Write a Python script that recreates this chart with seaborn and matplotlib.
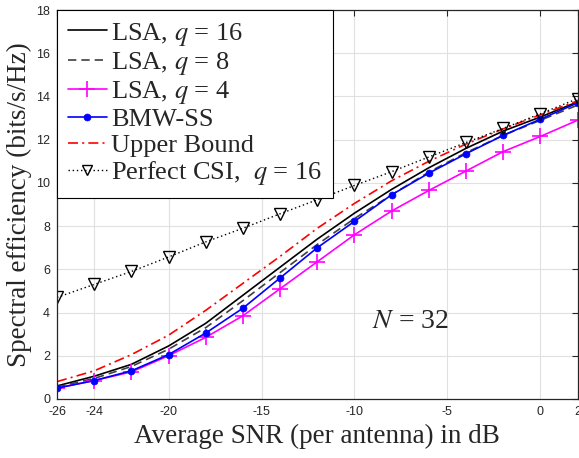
import numpy as np
import matplotlib
matplotlib.use("Agg")
import matplotlib.pyplot as plt
import seaborn as sns

# -----------------------------
# Data
# -----------------------------
snr_db = [-26, -24, -22, -20, -18, -16, -14, -12, -10, -8, -6, -4, -2, 0, 2]

lsa_q16 = [0.6, 1.05, 1.6, 2.45, 3.5, 4.8, 6.1, 7.4, 8.6, 9.7, 10.7, 11.6, 12.4, 13.05, 13.75]
lsa_q8 = [0.55, 0.95, 1.5, 2.3, 3.3, 4.55, 5.85, 7.15, 8.35, 9.45, 10.5, 11.4, 12.2, 12.9, 13.6]
lsa_q4 = [0.5, 0.85, 1.25, 2.0, 2.85, 3.85, 5.1, 6.35, 7.6, 8.7, 9.65, 10.55, 11.45, 12.15, 12.9]
bmw_ss = [0.5, 0.85, 1.3, 2.05, 3.05, 4.2, 5.6, 7.0, 8.22, 9.45, 10.45, 11.35, 12.2, 12.95, 13.7]
upper_bound = [0.8, 1.3, 2.05, 2.95, 4.1, 5.35, 6.6, 7.9, 9.05, 10.1, 11.0, 11.8, 12.5, 13.15, 13.8]
perfect_csi = [4.7, 5.3, 5.9, 6.57, 7.27, 7.9, 8.57, 9.22, 9.88, 10.52, 11.2, 11.87, 12.52, 13.2, 13.9]

x_ticks = [-26, -24, -20, -15, -10, -5, 0, 2]
y_ticks = [0, 2, 4, 6, 8, 10, 12, 14, 16, 18]

# -----------------------------
# Style
# -----------------------------
sns.set_style("whitegrid")
plt.rcParams["font.family"] = ["Liberation Serif", "DejaVu Serif"]
plt.rcParams["mathtext.fontset"] = "stix"

fig = plt.figure(figsize=(5.79, 4.58), dpi=100)
ax = fig.add_axes([0.0985, 0.129, 0.899, 0.849])

sns.lineplot(x=snr_db, y=lsa_q16, ax=ax, color="black", lw=1.2,
             label="LSA, $q$ = 16")
sns.lineplot(x=snr_db, y=lsa_q8, ax=ax, color="#404040", lw=1.2,
             linestyle=(0, (5, 3)), label="LSA, $q$ = 8")
sns.lineplot(x=snr_db, y=lsa_q4, ax=ax, color="#ff00ff", lw=1.2,
             marker="+", markersize=11, markeredgewidth=1.2,
             markeredgecolor="#ff00ff", label="LSA, $q$ = 4")
sns.lineplot(x=snr_db, y=bmw_ss, ax=ax, color="#0000ff", lw=1.2,
             marker="o", markersize=5, markeredgewidth=0.5,
             markeredgecolor="#0000ff", label="BMW-SS")
sns.lineplot(x=snr_db, y=upper_bound, ax=ax, color="#ff0000", lw=1.2,
             linestyle=(0, (6, 2.5, 1.2, 2.5)), label="Upper Bound")
sns.lineplot(x=snr_db, y=perfect_csi, ax=ax, color="black", lw=1.0,
             linestyle=(0, (1, 2)), marker="v", markersize=9,
             markerfacecolor="none", markeredgecolor="black", markeredgewidth=1.0,
             label="Perfect CSI,  $q$ = 16")

ax.set_xlim(-26, 2)
ax.set_ylim(0, 18)
ax.set_xticks(x_ticks)
ax.set_yticks(y_ticks)
ax.set_xticklabels([str(t) for t in x_ticks], family="Liberation Sans", fontsize=9)
ax.set_yticklabels([str(t) for t in y_ticks], family="Liberation Sans", fontsize=9)

ax.grid(True, color="#e0e0e0", lw=0.8)
ax.tick_params(direction="in", length=4, top=True, right=True, width=0.8,
               color="#262626", pad=5)
for s in ax.spines.values():
    s.set_color("#262626")
    s.set_linewidth(0.9)

ax.set_xlabel("Average SNR (per antenna) in dB", fontsize=19.5, color="#262626", labelpad=4)
ax.set_ylabel("Spectral efficiency (bits/s/Hz)", fontsize=19.5, color="#262626", labelpad=3)

ax.text(-7.0, 3.6, "$N$ = 32", fontsize=20, ha="center", va="center")

leg = ax.legend(loc="upper left", fontsize=19, frameon=True, fancybox=False,
                edgecolor="black", framealpha=1, handlelength=1.5,
                labelspacing=0.08, borderpad=0.4, handletextpad=0.15,
                borderaxespad=0.0)
leg.get_frame().set_linewidth(0.8)
leg.legend_handles[5].set_markersize(7)

fig.savefig("out.png", dpi=100)
